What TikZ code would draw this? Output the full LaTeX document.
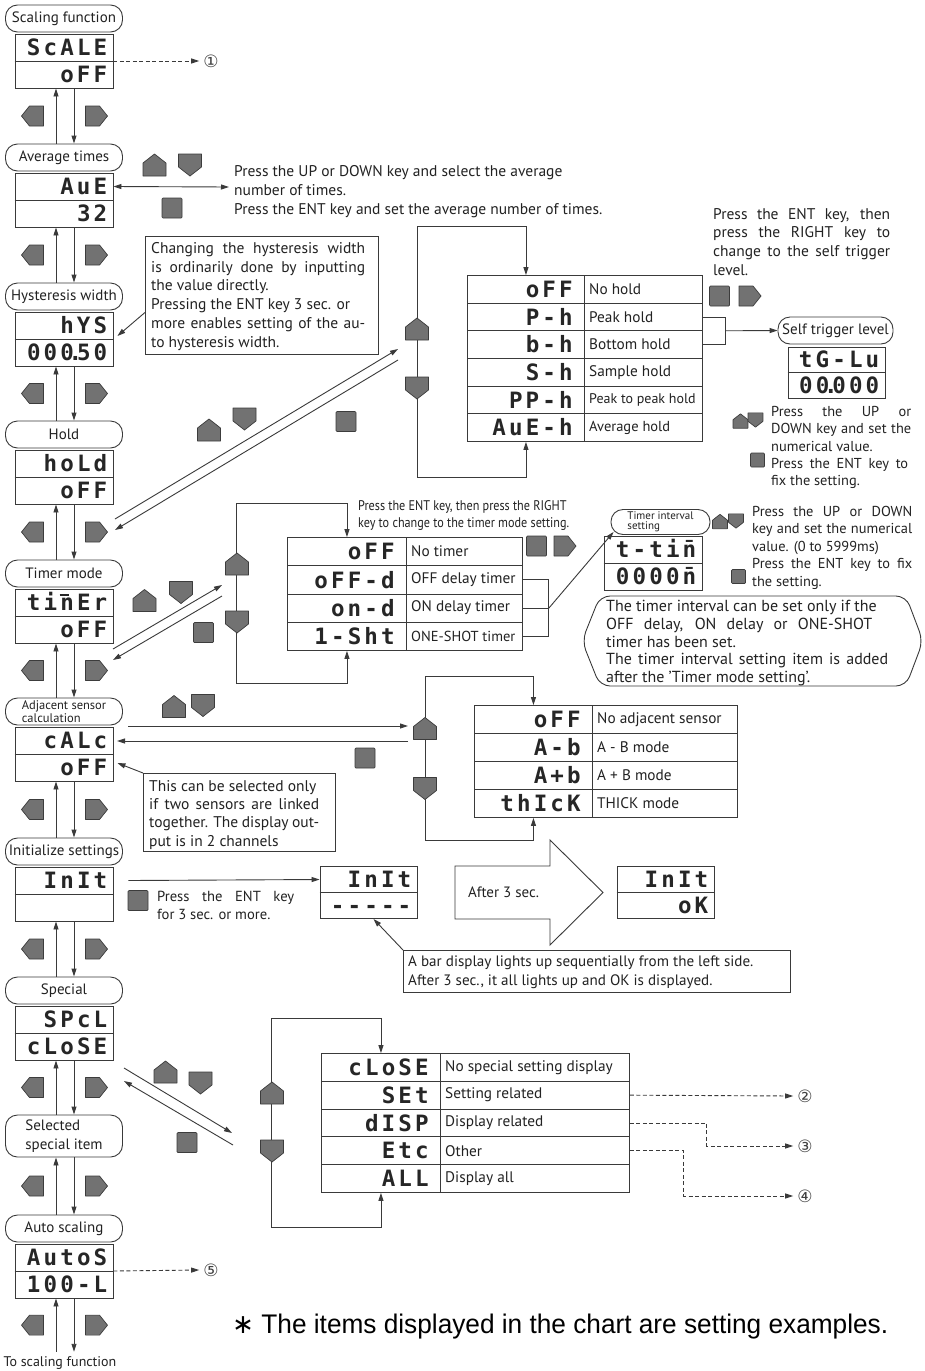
\documentclass[tikz,border=0pt]{standalone}
\usepackage{fontspec}
\usepackage{graphicx}
\setmainfont{PT Sans}
\newfontfamily\segfont[LetterSpace=14]{DejaVu Sans Mono}
\newfontfamily\djv{DejaVu Sans}
\newfontfamily\arialf{Liberation Sans}
\usetikzlibrary{arrows.meta,calc}
\definecolor{lnc}{HTML}{3A3A3A}
\definecolor{kf}{HTML}{727272}
\definecolor{kd}{HTML}{3C3C3C}
\definecolor{txc}{HTML}{222222}
\newcommand\fsz[2]{\fontsize{#1}{#2}\selectfont}
\newcommand\jl[2]{\makebox[#1][s]{#2}}
\newcommand\sdot{\makebox[3pt]{.}}
\tikzset{
 ln/.style={draw=lnc, line width=0.9pt},
 arr/.style={ln, -{Triangle[length=8pt,width=5pt]}},
 darr/.style={ln, {Triangle[length=8pt,width=5pt]}-{Triangle[length=8pt,width=5pt]}},
 dsh/.style={arr, dash pattern=on 4pt off 2.5pt},
 pill/.style={ln, rounded corners=12pt, minimum width=117pt, minimum height=27pt, inner sep=0pt, font=\fsz{15}{16}, text=txc},
 disp/.style={ln, inner sep=0pt},
 cell/.style={ln, inner sep=0pt},
 seg/.style={font=\segfont\bfseries\fsz{22.5}{23}, text height=16.4pt, text depth=0pt, inner sep=0pt, text=black!85},
 txt/.style={font=\fsz{15.5}{19}, inner sep=0pt, align=left, text=txc},
 tl/.style={font=\fsz{15.3}{16}, inner sep=0pt, text=txc},
 circ/.style={font=\djv\fsz{17}{17}, inner sep=0pt, text=black!75},
 keyst/.style={fill=kf, draw=kd, line width=0.7pt, line join=round},
 lkey/.pic={\path[keyst] (11,-10) -- (11,10) -- (-3,10) -- (-11,0) -- (-3,-10) -- cycle;},
 rkey/.pic={\path[keyst] (-11,-10) -- (-11,10) -- (3,10) -- (11,0) -- (3,-10) -- cycle;},
 ukey/.pic={\path[keyst] (-11.5,11) -- (11.5,11) -- (11.5,-2) -- (0,-11) -- (-11.5,-2) -- cycle;},
 dkey/.pic={\path[keyst] (-11.5,-11) -- (11.5,-11) -- (11.5,2) -- (0,11) -- (-11.5,2) -- cycle;},
 ekey/.pic={\path[keyst, rounded corners=1pt] (-10,-10) rectangle (10,10);},
}
\newcommand\mydisp[7]{%
 \node[disp, minimum width=#4, minimum height=#5] (#1) at (#2,#3) {};
 \draw[ln] (#1.west) -- (#1.east);
 \node[seg, anchor=east] (#1-t) at ($(#1.east)+(-6,{-#5/4})$) {#6};
 \node[seg, anchor=east] (#1-b) at ($(#1.east)+(-6,{#5/4})$) {#7};
}
\newcommand\link[2]{%
 \draw[arr] ([xshift=-8pt]#2.north) -- ([xshift=-8pt]#1.south);
 \draw[arr] ([xshift=10pt]#1.south) -- ([xshift=10pt]#2.north);
 \coordinate (#1k) at ($(#1.south)!0.5!(#2.north)$);
 \pic at ([xshift=-31.5pt]#1k) {lkey};
 \pic at ([xshift=32.5pt]#1k) {rkey};
}
\newcommand\segtable[7]{%
 \foreach \s/\l [count=\i] in {#7}{%
  \node[cell, minimum width={#3-#2}, minimum height=#6, anchor=north west] (#1\i-a) at ({#2},{#5+(\i-1)*#6}) {};
  \node[cell, minimum width={#4-#3}, minimum height=#6, anchor=north west] (#1\i-b) at ({#3},{#5+(\i-1)*#6}) {};
  \node[seg, anchor=east] at ([xshift=-12pt]#1\i-a.east) {\s};
  \node[tl, anchor=west] at ([xshift=5pt]#1\i-b.west) {\l};
 }}
\begin{document}
\begin{tikzpicture}[x=1pt,y=-1pt]
\useasboundingbox[fill=white] (0,0) rectangle (925,1371);
% ---------------- left column
\node[pill] (p1) at (64,18.5) {Scaling function};
\mydisp{d1}{64}{61}{98}{54}{ScALE}{oFF}
\node[pill] (p2) at (64,157.5) {Average times};
\mydisp{d2}{64}{200}{98}{54}{AuE}{32}
\node[pill] (p3) at (64,296.5) {Hysteresis width};
\mydisp{d3}{64}{339}{98}{54}{hYS}{000\sdot50}
\node[pill] (p4) at (64,434.5) {Hold};
\mydisp{d4}{64}{477}{98}{54}{hoLd}{oFF}
\node[pill] (p5) at (64,573.5) {Timer mode};
\mydisp{d5}{64}{616}{98}{54}{tinEr}{oFF}
\draw[draw=black!85, line width=2.4pt] (59.5,595) -- (69,595);
\node[pill, font=\fsz{12.5}{11}, align=left] (p6) at (64,711.5) {Adjacent sensor\\calculation};
\mydisp{d6}{64}{754}{98}{54}{cALc}{oFF}
\node[pill] (p7) at (64,851.5) {Initialize settings};
\mydisp{d7}{64}{894}{98}{54}{InIt}{}
\node[pill] (p8) at (64,990.5) {Special};
\mydisp{d8}{64}{1033}{98}{54}{SPcL}{cLoSE}
\node[pill, minimum height=42pt, align=left, font=\fsz{15}{18.5}] (p9) at (64,1136) {Selected\\special item};
\node[pill] (p10) at (64,1228.5) {Auto scaling};
\mydisp{d10}{64}{1271}{98}{54}{AutoS}{100-L}
\node[inner sep=0pt, minimum size=0pt] (endc) at (64,1352) {};
\node[tl, font=\fsz{14}{15}] (tosc) at (60,1363) {To scaling function};
\link{d1}{p2}
\link{d2}{p3}
\link{d3}{p4}
\link{d4}{p5}
\link{d5}{p6}
\link{d6}{p7}
\link{d7}{p8}
\link{d8}{p9}
\link{p9}{p10}
\link{d10}{endc}
% ---------------- scaling
\node[circ] (c1) at (211,61) {①};
\draw[dsh] (d1.east) -- ([xshift=-4pt]c1.west);
% ---------------- average
\coordinate (avgR) at (229,187);
\draw[darr] ([yshift=13.5pt]d2.east) -- (avgR);
\pic at (154.5,165) {ukey};
\pic at (190,165) {dkey};
\pic at (172,208) {ekey};
\node[txt, anchor=north west] (avgtxt) at (234,165) {Press the UP or DOWN key and select the average\\number of times.\\Press the ENT key and set the average number of times.};
% ---------------- hysteresis
\node[ln, minimum width=233pt, minimum height=118pt, anchor=north west, inner sep=0pt] (hn) at (145,236) {};
\node[txt, anchor=north west, font=\fsz{15.5}{18.8}] (hnt) at (151,242) {\jl{214pt}{Changing the hysteresis width}\\\jl{214pt}{is ordinarily done by inputting}\\the value directly.\\Pressing the ENT key 3 sec. or\\\jl{214pt}{more enables setting of the au-}\\to hysteresis width.};
\draw[arr] ([yshift=-17pt]hn.west) -- ([xshift=4pt,yshift=3pt]d3.east);
% ---------------- hold
\coordinate (h1) at (115,519); \coordinate (h2) at (398,349);
\coordinate (h3) at (398,360); \coordinate (h4) at (115,530);
\draw[arr] (h1) -- (h2);
\draw[arr] (h3) -- (h4);
\pic at (209,430) {ukey};
\pic at (244.5,419) {dkey};
\pic at (346,421.5) {ekey};
\segtable{ht}{467}{584}{702}{275}{27.67}{oFF/No hold, P-h/Peak hold, b-h/Bottom hold, S-h/Sample hold, PP-h/{\fsz{14}{15}Peak to peak hold}, AuE-h/{\fsz{14.5}{15}Average hold}}
\coordinate (hl1) at (417,226); \coordinate (hl2) at (417,477);
\draw[ln] (hl1) -- (hl2);
\draw[arr] (hl1) -| (ht1-a.north);
\draw[arr] (hl2) -| (ht6-a.south);
\pic at (417,329) {ukey};
\pic at (417,388) {dkey};
\node[txt, anchor=north west, font=\fsz{15.5}{18.7}] (stt) at (713,208) {\jl{177pt}{Press the ENT key, then}\\\jl{177pt}{press the RIGHT key to}\\\jl{177pt}{change to the self trigger}\\level.};
\pic at (719.5,296) {ekey};
\pic at (750,296) {rkey};
\node[pill, minimum width=115pt, font=\fsz{15}{16}] (st) at (835.5,330.5) {Self trigger level};
\mydisp{sd}{836.5}{372.5}{97}{51}{tG-Lu}{00\sdot000}
\draw[ln] (ht2-b.east) -- ++(23,0) |- (ht3-b.east);
\draw[arr] ($(ht2-b.east)!0.5!(ht3-b.east)+(23,0)$) -- (st.west);
\pic[scale=0.65] at (740.5,421) {ukey};
\pic[scale=0.65] at (755.5,420) {dkey};
\pic[scale=0.7] at (757.5,460) {ekey};
\node[txt, anchor=north west, font=\fsz{14.4}{17.3}] (stl) at (771,406) {\jl{140pt}{Press the UP or}\\\jl{140pt}{DOWN key and set the}\\numerical value.\\\jl{137pt}{Press the ENT key to}\\fix the setting.};
% ---------------- timer
\coordinate (t1) at (113,649); \coordinate (t2) at (222,585);
\coordinate (t3) at (222,596); \coordinate (t4) at (113,660);
\draw[arr] (t1) -- (t2);
\draw[arr] (t3) -- (t4);
\pic at (144.5,600.5) {ukey};
\pic at (181,592.5) {dkey};
\pic at (203.5,632.5) {ekey};
\segtable{tt}{287}{406}{522}{537}{28.25}{oFF/No timer, oFF-d/OFF delay timer, on-d/ON delay timer, 1-Sht/{\fsz{14.5}{15}ONE-SHOT timer}}
\coordinate (tl1) at (236,503); \coordinate (tl2) at (236,683);
\draw[ln] (tl1) -- (tl2);
\draw[arr] (tl1) -| (tt1-a.north);
\draw[arr] (tl2) -| (tt4-a.south);
\pic at (237,564) {ukey};
\pic at (237,622) {dkey};
\node[txt, anchor=north west, font=\fsz{14}{17}] (th) at (358,500) {\scalebox{0.87}[1]{Press the ENT key, then press the RIGHT}\\\scalebox{0.87}[1]{key to change to the timer mode setting.}};
\pic at (536.5,546) {ekey};
\pic at (565,546) {rkey};
\draw[ln] (tt2-b.east) -- ++(26,0) |- (tt4-b.east);
\draw[ln] (tt3-b.east) -- ++(26,0) coordinate (tb);
\node[pill, minimum width=99pt, minimum height=25pt, align=left, font=\fsz{11}{10}] (tip) at (660.5,522) {Timer interval\\setting};
\mydisp{td}{653}{563}{98}{54}{t-tin̄}{0000n̄}
\draw[arr] (tb) -- ([xshift=3pt,yshift=3pt]tip.south west);
\pic[scale=0.65] at (720,521.5) {ukey};
\pic[scale=0.65] at (736,521) {dkey};
\pic[scale=0.7] at (738.5,576.5) {ekey};
\node[txt, anchor=north west, font=\fsz{14.4}{17.5}] (tit) at (752,506) {\jl{160pt}{Press the UP or DOWN}\\\jl{160pt}{key and set the numerical}\\value. (0 to 5999ms)\\\jl{160pt}{Press the ENT key to fix}\\the setting.};
\draw[ln, rounded corners=10pt] (600,596) -- (906,596) -- (923,641) -- (906,686) -- (600,686) -- (582,641) -- cycle;
\node[txt, anchor=north west, font=\fsz{16}{17.8}] (tnote) at (606,600) {The timer interval can be set only if the\\\jl{266pt}{OFF delay, ON delay or ONE-SHOT}\\timer has been set.\\\jl{282pt}{The timer interval setting item is added}\\after the 'Timer mode setting'.};
% ---------------- adjacent
\coordinate (a1) at (128,726); \coordinate (a2) at (408,726);
\coordinate (a3) at (408,741); \coordinate (a4) at (117,741);
\draw[arr] (a1) -- (a2);
\draw[arr] (a3) -- (a4);
\pic at (174,706.5) {ukey};
\pic at (203,705.5) {dkey};
\pic at (365,758) {ekey};
\segtable{at}{474}{592}{737}{705}{28}{oFF/No adjacent sensor, A-b/A - B mode, A+b/A + B mode, thIcK/THICK mode}
\coordinate (al1) at (425,676); \coordinate (al2) at (425,840);
\draw[ln] (al1) -- (al2);
\draw[arr] (al1) -| (at1-a.north);
\draw[arr] (al2) -| (at4-a.south);
\pic at (425,728.5) {ukey};
\pic at (425,788.5) {dkey};
\node[ln, minimum width=192pt, minimum height=78pt, anchor=north west, inner sep=0pt] (an) at (143,773) {};
\node[txt, anchor=north west, font=\fsz{15.5}{18.3}] (ant) at (149,780) {This can be selected only\\\jl{170pt}{if two sensors are linked}\\\jl{170pt}{together. The display out-}\\put is in 2 channels};
\draw[arr] (an.north west) -- ([xshift=4pt,yshift=-9pt]d6.east);
% ---------------- initialize
\mydisp{id}{368.5}{892.5}{97}{52}{InIt}{-----}
\draw[arr] ([yshift=13.5pt]d7.east) ++(15,0) -- ([yshift=13pt]id.west);
\pic at (138,900.5) {ekey};
\node[txt, anchor=north west, font=\fsz{14.6}{18}] (itx) at (157,891) {\jl{137pt}{Press the ENT key}\\for 3 sec. or more.};
\draw[ln, line join=miter] (455,866) -- (550,866) -- (550,840) -- (603,892.5) -- (550,945) -- (550,919) -- (455,919) -- cycle;
\node[tl, anchor=west, font=\fsz{15}{16}] (a3s) at (468,892) {After 3 sec.};
\mydisp{od}{665.5}{892.5}{97}{52}{InIt}{oK}
\node[ln, minimum width=387pt, minimum height=42pt, anchor=north west, inner sep=0pt] (bn) at (403,950) {};
\node[txt, anchor=north west, font=\fsz{15.1}{19}] (bnt) at (408,956) {A bar display lights up sequentially from the left side.\\After 3 sec., it all lights up and OK is displayed.};
\draw[arr] (bn.north west) -- ([xshift=5pt]id.south);
% ---------------- special
\coordinate (s1) at (124,1068); \coordinate (s2) at (232,1133);
\coordinate (s3) at (233,1145); \coordinate (s4) at (124,1081);
\draw[arr] (s1) -- (s2);
\draw[arr] (s3) -- (s4);
\pic at (165.5,1072) {ukey};
\pic at (200.5,1083) {dkey};
\pic at (187,1142.5) {ekey};
\segtable{sp}{321}{440}{629}{1053}{27.8}{cLoSE/No special setting display, SEt/Setting related, dISP/Display related, Etc/Other, ALL/Display all}
\coordinate (sl1) at (271,1018); \coordinate (sl2) at (271,1227);
\draw[ln] (sl1) -- (sl2);
\draw[arr] (sl1) -| (sp1-a.north);
\draw[arr] (sl2) -| (sp5-a.south);
\pic at (272,1093) {ukey};
\pic at (272,1151) {dkey};
\node[circ] (c2) at (805,1096) {②};
\node[circ] (c3) at (805,1146) {③};
\node[circ] (c4) at (805,1196) {④};
\draw[dsh] (sp2-b.east) -- ([xshift=-4pt]c2.west);
\draw[dsh] (sp3-b.east) -- ++(77,0) |- ([xshift=-4pt]c3.west);
\draw[dsh] (sp4-b.east) -- ++(54,0) |- ([xshift=-4pt]c4.west);
% ---------------- auto scaling
\node[circ] (c5) at (211,1270) {⑤};
\draw[dsh] (d10.east) -- ([xshift=-4pt]c5.west);
% ---------------- footnote
\node[anchor=west, inner sep=0pt, text=black] (fn) at (232,1327) {\resizebox{656pt}{19.5pt}{\arialf\fsz{24}{26}{\djv ∗} The items displayed in the chart are setting examples.}};
\end{tikzpicture}
\end{document}
